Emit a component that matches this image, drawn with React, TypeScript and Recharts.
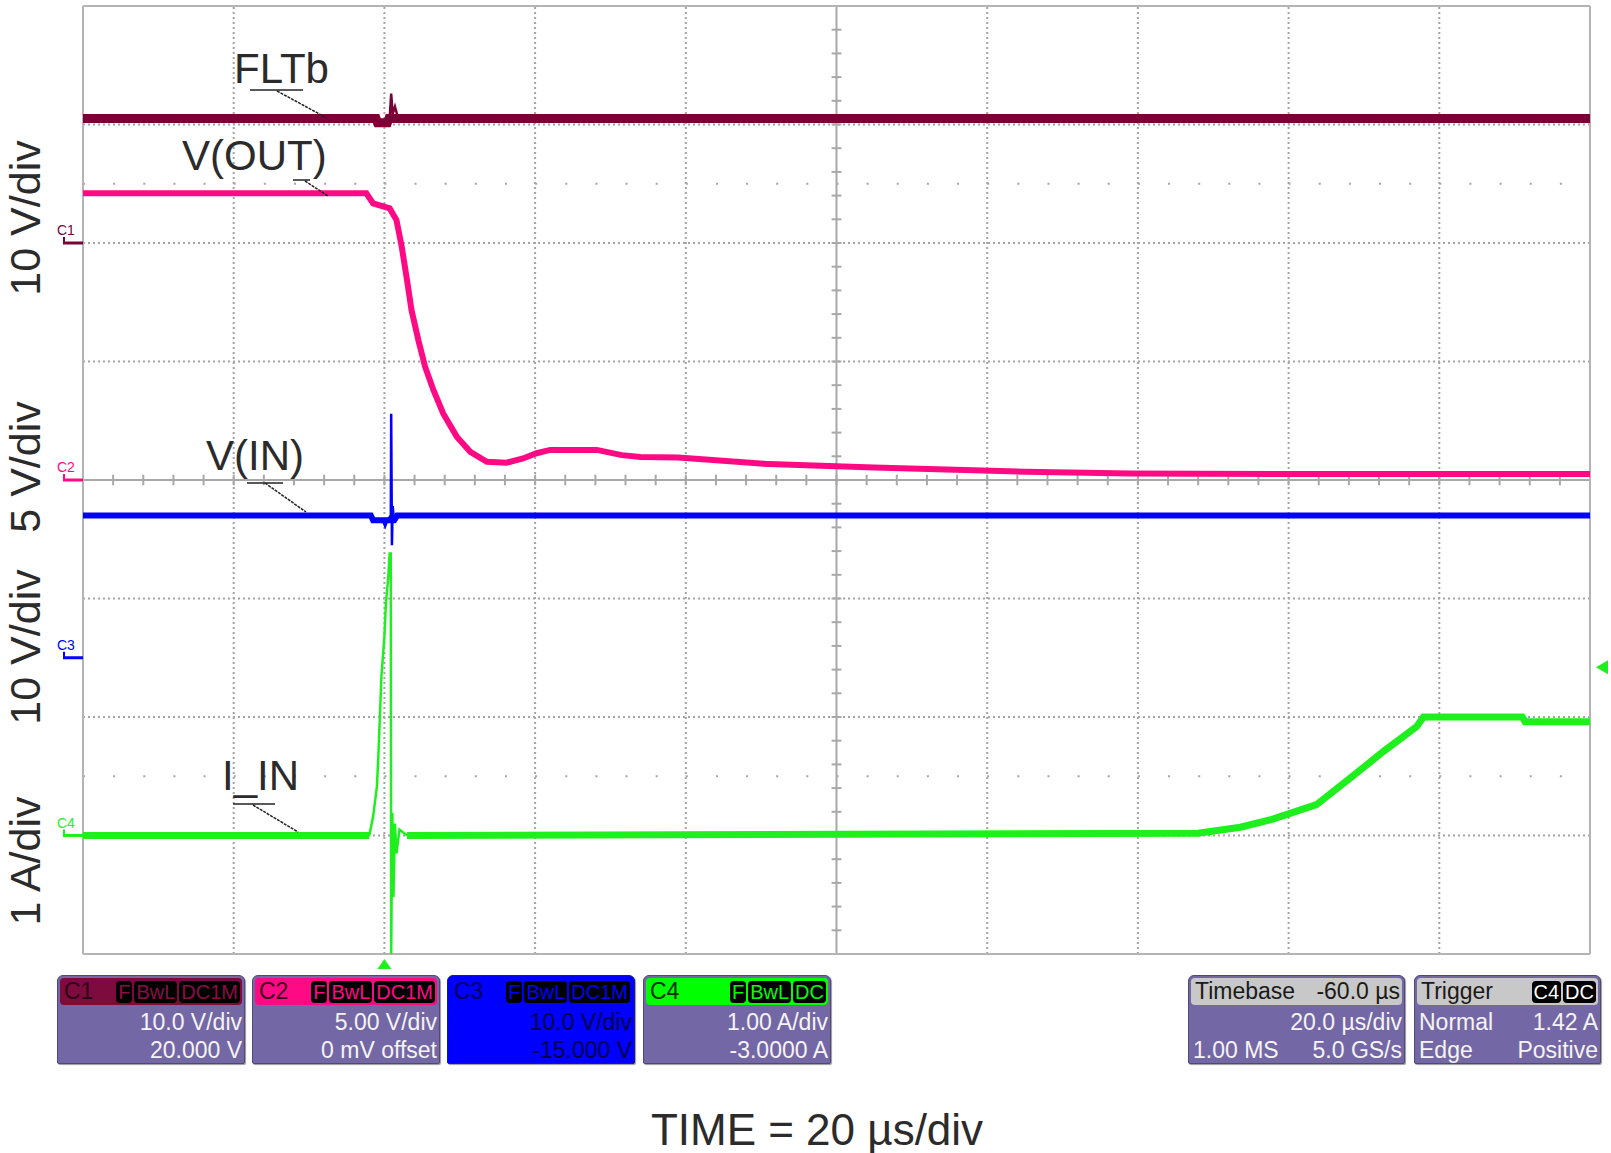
import React from 'react';
import { LineChart, Line, XAxis, YAxis, ReferenceLine, ReferenceDot } from 'recharts';

document.body.style.margin = '0';

const FONT = '"Liberation Sans", Arial, Helvetica, sans-serif';

// time in µs (20 µs/div, 10 div); vertical in screen divisions (-4..4)
const timeGrid = [0, 20, 40, 60, 80, 100, 120, 140, 160, 180, 200];
const divGrid = [-4, -3, -2, -1, 0, 1, 2, 3, 4];

// scope channel setup: units/div and where the zero marker sits (div from centre)
const chName = ['C1', 'C2', 'C3', 'C4'];
const chScale = [10, 5, 10, 1];
const chZero = [2, 0, -1.5, -3];
const chColor = ['#7a0036', '#ff0a84', '#0000ff', '#1ef01e'];

// C1 FLTb (V)
const fltbT = [0, 38.9, 39.1, 40.4, 40.6, 200];
const fltbV = [10.5, 10.5, 10.15, 10.15, 10.5, 10.5];
const fltbSpikeT = [40.7, 40.9, 41.1, 41.4, 41.7, 42.1];
const fltbSpikeV = [10.5, 12.6, 10.9, 11.5, 10.8, 10.5];

// C2 V(OUT) (V)
const voutT = [0, 37.6, 38.5, 40.7, 41.6, 42.3, 43.0, 43.6, 44.5, 45.4, 46.5, 47.8, 49.6, 51.4, 53.6, 56.2, 58.4, 60.2, 62.0, 68.2, 71.5, 74, 79, 91, 105, 125, 139, 160, 200];
const voutV = [12.1, 12.1, 11.67, 11.46, 10.97, 9.84, 8.44, 7.17, 5.91, 4.78, 3.8, 2.81, 1.83, 1.19, 0.77, 0.73, 0.91, 1.13, 1.27, 1.27, 1.05, 0.97, 0.95, 0.67, 0.53, 0.35, 0.27, 0.25, 0.25];

// C3 V(IN) (V)
const vinT = [0, 38.2, 38.5, 41.3, 41.7, 200];
const vinV = [12.0, 12.0, 11.6, 11.6, 12.0, 12.0];
const vinSpikeT = [39.8, 40.1, 40.4, 40.85, 40.9, 41.0, 41.1, 41.3, 41.6];
const vinSpikeV = [11.6, 11.1, 11.6, 12.0, 20.6, 9.5, 12.8, 11.4, 12.0];

// C4 I_IN (A)
const iinT = [0, 38.0, 40, 43.0, 148, 153.6, 158, 163.7, 168.1, 172.6, 177.0, 177.9, 191.0, 191.4, 200];
const iinV = [0, 0, null, 0, 0.02, 0.07, 0.14, 0.26, 0.48, 0.71, 0.92, 1.0, 1.0, 0.96, 0.96];
const iinSpikeT = [38.0, 38.5, 39.0, 39.2, 39.4, 39.6, 40.0, 40.2, 40.5, 40.7, 40.85, 40.9, 41.05, 41.2, 41.4, 41.6, 42.0, 43.0];
const iinSpikeV = [0, 0.16, 0.41, 0.67, 1.0, 1.34, 1.68, 1.96, 2.17, 2.38, 2.38, -1.0, 0.19, -0.52, 0.1, -0.15, 0.05, 0];

const trigTime = 40;
const trigLevel = 1.42;

const toDiv = (ch: number, v: number | null) => (v === null ? null : chZero[ch] + v / chScale[ch]);
const series = (ch: number, ts: number[], vs: (number | null)[]) => ts.map((t, i) => ({ t, y: toDiv(ch, vs[i]) }));

const minorT = Array.from({ length: 51 }, (_, i) => i * 4);
const minorD = Array.from({ length: 41 }, (_, i) => -4 + i * 0.2);

const ChannelMark = (ch: number) => (props: any) => {
  const { cx, cy } = props;
  return (
    <g>
      <text x={cx - 26} y={cy - 8} fontSize={14} fill={chColor[ch]} fontFamily={FONT}>{chName[ch]}</text>
      <line x1={cx - 20} y1={cy} x2={cx} y2={cy} stroke={chColor[ch]} strokeWidth={3} />
      <line x1={cx - 19} y1={cy - 6} x2={cx - 19} y2={cy + 1} stroke={chColor[ch]} strokeWidth={2} />
    </g>
  );
};

const TrigBottom = (props: any) => {
  const { cx, cy } = props;
  return <polygon points={`${cx},${cy + 5} ${cx - 7},${cy + 15} ${cx + 7},${cy + 15}`} fill="#1ef01e" />;
};
const TrigRight = (props: any) => {
  const { cx, cy } = props;
  return <polygon points={`${cx + 6},${cy} ${cx + 18},${cy - 7} ${cx + 18},${cy + 7}`} fill="#1ef01e" />;
};

interface BoxProps {
  left: number;
  width: number;
  headBg: string;
  headColor: string;
  title: string;
  titleRight?: string;
  badges: string[];
  badgeColor: string;
  bodyBg: string;
  bodyColor: string;
  rows: [string, string][];
  border: string;
}

const InfoBox: React.FC<BoxProps> = ({ left, width, headBg, headColor, title, titleRight, badges, badgeColor, bodyBg, bodyColor, rows, border }) => (
  <div
    style={{
      position: 'absolute', left, top: 975, width, height: 89, boxSizing: 'border-box',
      background: bodyBg, border: `1px solid ${border}`, borderRadius: '6px 6px 2px 2px',
      boxShadow: '1px 1px 1px #9a9a9a', fontFamily: FONT, overflow: 'hidden',
    }}
  >
    <div
      style={{
        margin: '2px 2px 0 2px', height: 27, background: headBg, borderRadius: 4, display: 'flex',
        alignItems: 'center', padding: '0 2px 0 4px', color: headColor, fontSize: 23, whiteSpace: 'nowrap',
      }}
    >
      <span style={{ flex: 1 }}>{title}</span>
      {titleRight && <span>{titleRight}</span>}
      {badges.map((b) => (
        <span
          key={b}
          style={{
            background: '#000', color: badgeColor, borderRadius: 4, padding: '0 2px', marginLeft: 2,
            fontSize: 20, height: 22, lineHeight: '22px',
          }}
        >
          {b}
        </span>
      ))}
    </div>
    <div style={{ paddingTop: 3, color: bodyColor, fontSize: 23, lineHeight: '28px' }}>
      {rows.map(([l, r], i) => (
        <div key={i} style={{ display: 'flex', justifyContent: 'space-between', padding: '0 2px 0 4px', whiteSpace: 'nowrap' }}>
          <span>{l}</span>
          <span>{r}</span>
        </div>
      ))}
    </div>
  </div>
);

const lead = { stroke: '#222', strokeWidth: 1.5 };

export default function App() {
  return (
    <div style={{ position: 'relative', width: 1611, height: 1153, background: '#fff', overflow: 'hidden' }}>
      <LineChart width={1611} height={1153} margin={{ top: 6, right: 21, bottom: 199, left: 83 }}>
        <XAxis dataKey="t" type="number" domain={[0, 200]} hide allowDataOverflow />
        <YAxis type="number" domain={[-4, 4]} hide allowDataOverflow />

        {timeGrid.slice(1, -1).map((t) =>
          t === 100 ? null : <ReferenceLine key={`gx${t}`} x={t} stroke="#a4a4a4" strokeWidth={2} strokeDasharray="2 3" />
        )}
        {divGrid.slice(1, -1).map((d) =>
          d === 0 ? null : <ReferenceLine key={`gy${d}`} y={d} stroke="#a4a4a4" strokeWidth={2} strokeDasharray="2 3" />
        )}
        <ReferenceLine y={2.5} stroke="#a4a4a4" strokeWidth={2} strokeDasharray="2 28.14" />
        <ReferenceLine y={-2.5} stroke="#a4a4a4" strokeWidth={2} strokeDasharray="2 28.14" />
        <ReferenceLine x={100} stroke="#a8a8a8" strokeWidth={2} />
        <ReferenceLine y={0} stroke="#a8a8a8" strokeWidth={2} />
        {minorT.map((t) => (
          <ReferenceLine key={`tx${t}`} segment={[{ x: t, y: -0.045 }, { x: t, y: 0.045 }]} stroke="#a8a8a8" strokeWidth={2} />
        ))}
        {minorD.map((d) => (
          <ReferenceLine key={`ty${d.toFixed(1)}`} segment={[{ x: 99.35, y: d }, { x: 100.65, y: d }]} stroke="#a8a8a8" strokeWidth={2} />
        ))}
        <ReferenceLine x={0} stroke="#b4b4b4" strokeWidth={2} />
        <ReferenceLine x={200} stroke="#b4b4b4" strokeWidth={2} />
        <ReferenceLine y={4} stroke="#b4b4b4" strokeWidth={2} />
        <ReferenceLine y={-4} stroke="#b4b4b4" strokeWidth={2} />

        <Line data={series(3, iinT, iinV)} dataKey="y" type="linear" dot={false} stroke={chColor[3]} strokeWidth={7} isAnimationActive={false} />
        <Line data={series(3, iinSpikeT, iinSpikeV)} dataKey="y" type="linear" dot={false} stroke={chColor[3]} strokeWidth={2.5} isAnimationActive={false} />
        <Line data={series(2, vinT, vinV)} dataKey="y" type="linear" dot={false} stroke={chColor[2]} strokeWidth={6} isAnimationActive={false} />
        <Line data={series(2, vinSpikeT, vinSpikeV)} dataKey="y" type="linear" dot={false} stroke={chColor[2]} strokeWidth={2.5} isAnimationActive={false} />
        <Line data={series(1, voutT, voutV)} dataKey="y" type="linear" dot={false} stroke={chColor[1]} strokeWidth={6} isAnimationActive={false} />
        <Line data={series(0, fltbT, fltbV)} dataKey="y" type="linear" dot={false} stroke={chColor[0]} strokeWidth={9} isAnimationActive={false} />
        <Line data={series(0, fltbSpikeT, fltbSpikeV)} dataKey="y" type="linear" dot={false} stroke={chColor[0]} strokeWidth={2.5} isAnimationActive={false} />

        {chName.map((n, ch) => (
          <ReferenceDot key={n} x={0} y={chZero[ch]} r={0} ifOverflow="visible" shape={ChannelMark(ch)} />
        ))}
        <ReferenceDot x={trigTime} y={-4} r={0} ifOverflow="visible" shape={TrigBottom} />
        <ReferenceDot x={200} y={toDiv(3, trigLevel) as number} r={0} ifOverflow="visible" shape={TrigRight} />
      </LineChart>

      <svg width={1611} height={1153} style={{ position: 'absolute', left: 0, top: 0, pointerEvents: 'none' }}>
        <g fontFamily={FONT} fontSize={42} fill="#2b2b2b">
          <text x={234} y={83}>FLTb</text>
          <text x={182} y={170}>V(OUT)</text>
          <text x={206} y={470}>V(IN)</text>
          <text x={222} y={790}>I_IN</text>
        </g>
        <line x1={250} y1={90} x2={303} y2={90} {...lead} />
        <line x1={277} y1={91} x2={325} y2={117} {...lead} strokeDasharray="3 1" />
        <line x1={293} y1={180} x2={310} y2={180} {...lead} />
        <line x1={305} y1={181} x2={328} y2={196} {...lead} strokeDasharray="3 1" />
        <line x1={247} y1={483} x2={283} y2={483} {...lead} />
        <line x1={265} y1={483} x2={306} y2={512} {...lead} strokeDasharray="3 1" />
        <line x1={233} y1={804} x2={275} y2={804} {...lead} />
        <line x1={253} y1={805} x2={298} y2={832} {...lead} strokeDasharray="3 1" />

        <g fontFamily={FONT} fontSize={43} fill="#2b2b2b" textAnchor="middle">
          <text transform="translate(40,218) rotate(-90)">10 V/div</text>
          <text transform="translate(40,467) rotate(-90)">5 V/div</text>
          <text transform="translate(40,647) rotate(-90)">10 V/div</text>
          <text transform="translate(40,861) rotate(-90)">1 A/div</text>
        </g>
        <text x={817} y={1145} fontFamily={FONT} fontSize={44} fill="#2b2b2b" textAnchor="middle">TIME = 20 µs/div</text>
      </svg>

      <InfoBox left={57} width={188} headBg="#7e0b3d" headColor="#2e0012" title="C1" badges={['F', 'BwL', 'DC1M']} badgeColor="#8c0c47"
        bodyBg="#7467a6" bodyColor="#f4f4f4" rows={[['', '10.0 V/div'], ['', '20.000 V']]} border="#4f4878" />
      <InfoBox left={252} width={188} headBg="#ff0a85" headColor="#3a0020" title="C2" badges={['F', 'BwL', 'DC1M']} badgeColor="#ff0a85"
        bodyBg="#7467a6" bodyColor="#f4f4f4" rows={[['', '5.00 V/div'], ['', '0 mV offset']]} border="#4f4878" />
      <InfoBox left={447} width={188} headBg="#0000ff" headColor="#00005a" title="C3" badges={['F', 'BwL', 'DC1M']} badgeColor="#0000ff"
        bodyBg="#0000ff" bodyColor="#00004a" rows={[['', '10.0 V/div'], ['', '-15.000 V']]} border="#1a1a80" />
      <InfoBox left={643} width={188} headBg="#00ff00" headColor="#003000" title="C4" badges={['F', 'BwL', 'DC']} badgeColor="#00ff00"
        bodyBg="#7467a6" bodyColor="#f4f4f4" rows={[['', '1.00 A/div'], ['', '-3.0000 A']]} border="#4f4878" />
      <InfoBox left={1188} width={217} headBg="#c8c8c8" headColor="#1a1a1a" title="Timebase" titleRight="-60.0 µs" badges={[]} badgeColor="#fff"
        bodyBg="#7467a6" bodyColor="#f4f4f4" rows={[['', '20.0 µs/div'], ['1.00 MS', '5.0 GS/s']]} border="#4f4878" />
      <InfoBox left={1414} width={187} headBg="#c8c8c8" headColor="#1a1a1a" title="Trigger" badges={['C4', 'DC']} badgeColor="#ffffff"
        bodyBg="#7467a6" bodyColor="#f4f4f4" rows={[['Normal', '1.42 A'], ['Edge', 'Positive']]} border="#4f4878" />
    </div>
  );
}
